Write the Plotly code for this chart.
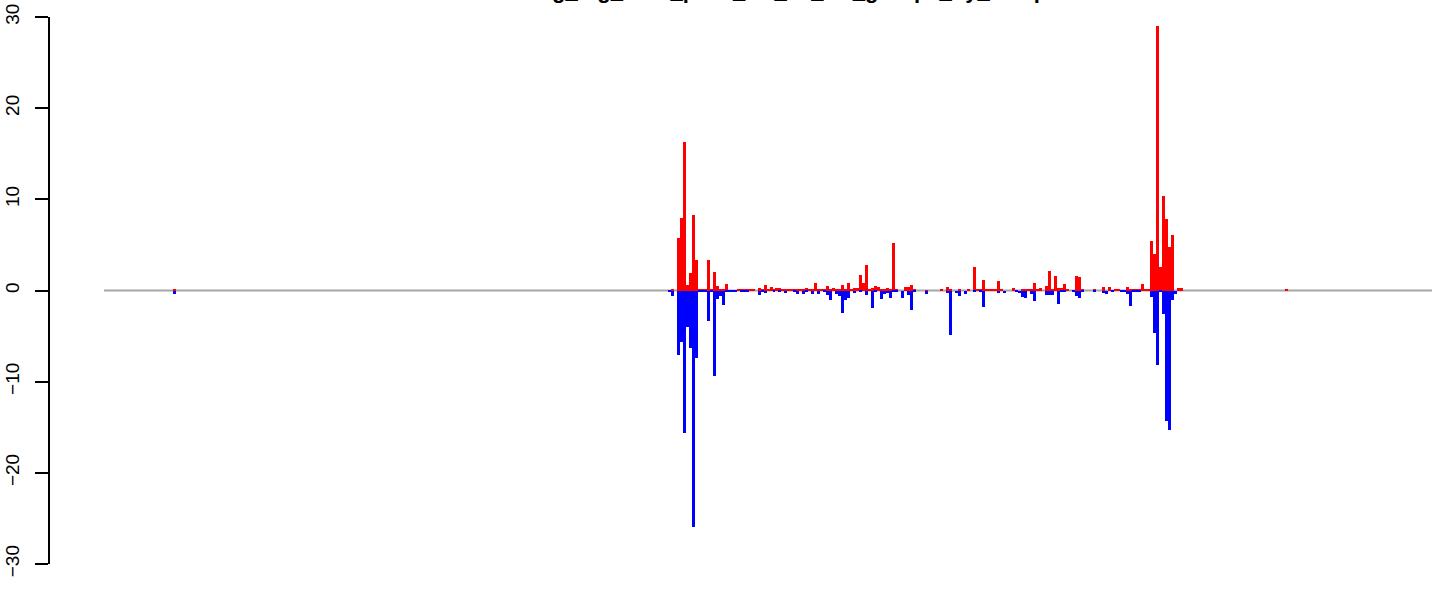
import plotly.graph_objects as go

TITLE = "Histog_log_ratio_peak_TC_vs_CT_groups_by_samp"
N_BINS = 443

bins = [23, 188, 189, 191, 192, 193, 194, 195, 196, 197, 198, 199, 200, 201, 202, 203, 204, 205, 206, 207,
        208, 209, 210, 211, 212, 213, 214, 215, 216, 218, 219, 220, 221, 222, 223, 224, 225, 226, 227, 228,
        229, 230, 231, 232, 233, 234, 235, 236, 237, 238, 239, 240, 241, 242, 243, 244, 245, 246, 247, 248,
        249, 250, 251, 252, 253, 254, 255, 256, 257, 258, 259, 260, 261, 262, 263, 264, 266, 267, 268, 269,
        270, 274, 279, 281, 282, 284, 285, 287, 288, 290, 291, 292, 293, 294, 295, 296, 297, 298, 299, 300,
        303, 304, 305, 306, 307, 308, 309, 310, 311, 312, 314, 315, 316, 317, 318, 319, 320, 321, 323, 324,
        325, 326, 330, 333, 334, 335, 336, 337, 338, 339, 340, 341, 342, 343, 344, 345, 346, 347, 348, 349,
        350, 351, 352, 353, 354, 355, 356, 357, 358, 359, 394]

pos_vals = [0.2, 0, 0.15, 5.76, 7.95, 16.3, 0.6, 1.9, 8.3, 3.35, 0.1, 0.1, 0.1, 3.35, 0.15, 2.03, 0.5, 0.2, 0.1, 0.7,
            0, 0, 0, 0.1, 0.08, 0.08, 0.08, 0.08, 0.08, 0.27, 0.08, 0.6, 0.1, 0.38, 0.08, 0.27, 0.27, 0.08, 0.08, 0.08,
            0.08, 0.08, 0.08, 0.08, 0.08, 0.27, 0.08, 0.08, 0.82, 0.08, 0.16, 0.08, 0.49, 0.16, 0.27, 0.16, 0.16, 0.6, 0.16, 0.82,
            0.08, 0.27, 0.27, 1.7, 0.82, 2.8, 0.1, 0.27, 0.49, 0.38, 0.08, 0.08, 0.27, 0.08, 5.2, 0.08, 0, 0.38, 0.38, 0.6,
            0.08, 0.05, 0.08, 0.38, 0.16, 0, 0.16, 0, 0.16, 2.57, 0.16, 0.16, 1.15, 0.16, 0.16, 0.16, 0.16, 1.04, 0.16, 0,
            0.27, 0, 0, 0.08, 0.08, 0.16, 0.16, 0.82, 0.16, 0.27, 0.49, 2.13, 0.16, 1.59, 0.27, 0.27, 0.71, 0.1, 0, 1.59,
            1.48, 0.08, 0.16, 0.38, 0, 0.38, 0, 0.16, 0.08, 0, 0, 0.38, 0.1, 0.08, 0.08, 0.16, 0.71, 0.08, 0.08, 5.43,
            4.0, 29.0, 2.58, 10.37, 7.84, 4.77, 6.09, 0, 0.27, 0.27, 0.1]

neg_vals = [-0.35, -0.1, -0.57, -7.04, -5.6, -15.6, -3.97, -6.27, -25.9, -7.37, -0.1, -0.1, -0.1, -3.3, -0.2, -9.34, -0.9, -0.6, -1.55, -0.1,
            -0.1, -0.1, -0.1, 0, -0.1, -0.1, -0.1, 0, 0, -0.5, -0.1, -0.24, 0, 0, -0.1, 0, -0.15, 0, -0.24, 0,
            0, -0.08, -0.38, 0, -0.35, -0.15, 0, -0.35, 0, -0.35, 0, -0.15, -0.5, -1.04, 0, -0.35, -0.64, -2.47, -1.04, -0.82,
            0, -0.3, 0, -0.2, 0, -0.5, 0, -1.92, -0.15, 0, -0.93, -0.38, -0.24, -0.82, -0.2, -0.2, -0.82, 0, -0.5, -2.14,
            -0.15, -0.38, 0, -0.3, -4.9, -0.27, -0.6, -0.35, 0, -0.15, 0, -0.15, -1.81, 0, 0, 0, 0, -0.24, 0, -0.24,
            0, -0.1, -0.24, -0.71, -0.82, 0, -0.38, -1.15, 0, 0, -0.5, -0.5, -0.5, 0, -1.48, -0.2, -0.2, 0, -0.15, -0.6,
            -0.82, -0.15, -0.15, -0.27, -0.38, 0, -0.15, 0, 0, -0.15, -0.15, -0.38, -1.7, -0.1, -0.1, -0.1, 0, 0, 0, -0.71,
            -4.64, -8.17, -0.1, -2.58, -14.28, -15.27, -1.04, -0.38, 0, 0, 0]

y_ticks = [-30, -20, -10, 0, 10, 20, 30]
y_tick_text = ["\u221230", "\u221220", "\u221210", "0", "10", "20", "30"]

fig = go.Figure()
fig.add_trace(go.Bar(x=bins, y=pos_vals, width=1, marker=dict(color="#FF0000", line=dict(width=0)),
                     showlegend=False, hoverinfo="skip"))
fig.add_trace(go.Bar(x=bins, y=neg_vals, width=1, marker=dict(color="#0000FF", line=dict(width=0)),
                     showlegend=False, hoverinfo="skip"))

fig.add_shape(type="line", x0=-0.5, x1=N_BINS - 0.5, y0=0, y1=0, xref="x", yref="y",
              line=dict(color="#A6A6A6", width=2), layer="below")

L, R, T, B = 50, 0, 17, 28
W, H = 1444, 592
px_per_bin = 1328 / N_BINS
x0 = -0.5 - (104 - L) / px_per_bin
x1 = x0 + (W - L - R) / px_per_bin

fig.add_annotation(text="<b>" + TITLE + "</b>", xref="paper", yref="paper", x=0.518, y=1.049,
                   xanchor="center", yanchor="middle", showarrow=False,
                   font=dict(family="Liberation Sans, Arial, sans-serif", size=22, color="black"))

fig.update_layout(
    width=W, height=H,
    margin=dict(l=L, r=R, t=T, b=B, autoexpand=False),
    paper_bgcolor="white", plot_bgcolor="white",
    barmode="overlay", bargap=0,
    font=dict(family="Liberation Sans, Arial, sans-serif", size=19, color="black"),
    xaxis=dict(visible=False, range=[x0, x1], automargin=False),
    yaxis=dict(range=[-30, 30], tickvals=y_ticks, ticktext=y_tick_text, tickangle=-90,
               showline=True, linecolor="black", linewidth=1.5, ticks="outside", ticklen=13,
               tickwidth=1.5, tickcolor="black", showgrid=False, zeroline=False,
               automargin=False, ticklabelstandoff=9),
)

fig.write_html("out.html", config={"displayModeBar": False},
               post_script="document.body.style.margin='0';")
